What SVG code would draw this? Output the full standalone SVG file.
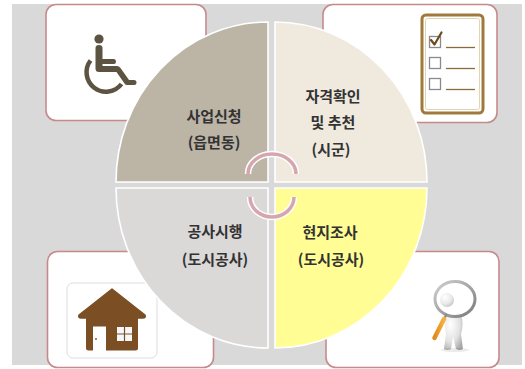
<svg xmlns="http://www.w3.org/2000/svg" width="525" height="369" viewBox="0 0 525 369">
  <defs>
    <style>
      .card { fill: #ffffff; stroke: #c68a8d; stroke-width: 1.6; }
      .quad { stroke: #ffffff; stroke-width: 1.6; }
      .label { font-family: "Noto Sans CJK KR", "Noto Sans", sans-serif; font-size: 15px; font-weight: bold; fill: #333333; text-anchor: middle; dominant-baseline: central; }
      .icon { fill: #5c5440; }
      .ring-bg { fill: none; stroke: #ffffff; stroke-width: 6.5; }
      .ring { fill: none; stroke: #d5a6ae; stroke-width: 3.5; }
      .box { fill: #ffffff; stroke: #8a8a8a; stroke-width: 1.3; }
      .rule { stroke: #8a6a3a; stroke-width: 1.3; }
    </style>
    <radialGradient id="figShade" cx="0.35" cy="0.3" r="0.8">
      <stop offset="0" stop-color="#ffffff"/>
      <stop offset="0.6" stop-color="#e2e2e2"/>
      <stop offset="1" stop-color="#a8a8a8"/>
    </radialGradient>
    <linearGradient id="lensRim" x1="0" y1="0" x2="1" y2="1">
      <stop offset="0" stop-color="#d0d0d0"/>
      <stop offset="1" stop-color="#7a7a7a"/>
    </linearGradient>
    <linearGradient id="handle" x1="0" y1="0" x2="1" y2="0">
      <stop offset="0" stop-color="#e08a1e"/>
      <stop offset="1" stop-color="#f6b23c"/>
    </linearGradient>
  </defs>

  <!-- backdrop -->
  <rect x="12" y="4" width="510" height="361" fill="#d9d9d9"/>

  <!-- corner cards with icons -->
  <g id="card-wheelchair">
    <rect class="card" x="46" y="4.5" width="160" height="116" rx="10"/>
    <circle class="icon" cx="99" cy="39" r="4.6"/>
    <path class="icon" d="M95.5,48 Q95.5,45 99,45 Q102.5,45 102.5,48 L102.5,59 L114,59 Q116,59 116,61.5 Q116,64 114,64 L102.5,64 L102.5,66 L117,66 Q119,66 120.5,68 L129,80 L134,80 Q136.5,80 136.5,82.5 Q136.5,85 134,85 L127,85 Q125.5,85 124.5,83.5 L116.5,72 L99,72 Q95.5,72 95.5,68.5 Z"/>
    <path d="M90.5,60.5 A18,18 0 1 0 121.5,84" fill="none" stroke="#5c5440" stroke-width="4.5"/>
  </g>

  <g id="card-checklist">
    <rect class="card" x="323" y="4.5" width="174" height="118" rx="10"/>
    <rect x="422" y="15" width="61" height="98" rx="4" fill="#ffffff" stroke="#a07a3c" stroke-width="3"/>
    <rect x="425.5" y="18.5" width="54" height="91" rx="2" fill="none" stroke="#e3d3b0" stroke-width="1"/>
    <rect class="box" x="429.5" y="36.5" width="11" height="11"/>
    <rect class="box" x="429.5" y="57.5" width="11" height="11"/>
    <rect class="box" x="429.5" y="78.5" width="11" height="11"/>
    <path d="M431,40 L434.5,44.5 L441.5,32.5" fill="none" stroke="#6b4a1c" stroke-width="2.2" stroke-linecap="round" stroke-linejoin="round"/>
    <line class="rule" x1="446" y1="47.5" x2="475" y2="47.5"/>
    <line class="rule" x1="446" y1="68.5" x2="475" y2="68.5"/>
    <line class="rule" x1="446" y1="89.5" x2="475" y2="89.5"/>
  </g>

  <g id="card-house">
    <rect class="card" x="47.5" y="251.5" width="166" height="116" rx="10"/>
    <rect x="67" y="283" width="90" height="75" rx="6" fill="#ffffff" stroke="#dddddd" stroke-width="1"/>
    <path d="M112,289 L145,315 Q146,318 143,318 L81,318 Q78,318 79,315 Z" fill="#7b4f23" stroke="#7b4f23" stroke-width="1.5" stroke-linejoin="round"/>
    <path d="M86,314 L138,314 L138,348 Q138,350.5 135.5,350.5 L88.5,350.5 Q86,350.5 86,348 Z" fill="#7b4f23"/>
    <rect x="93" y="326.5" width="13" height="25" fill="#ffffff"/>
    <circle cx="96" cy="339" r="0.9" fill="#7b4f23"/>
    <rect x="117" y="327" width="15" height="14" fill="#f4f8fb"/>
    <path d="M124.5,327 V341 M117,334 H132" stroke="#7b4f23" stroke-width="1.2"/>
  </g>

  <g id="card-search">
    <rect class="card" x="326" y="251.5" width="173" height="116" rx="10"/>
    <!-- figure body and legs -->
    <path d="M446,316 Q444,326 446,334 L444,349 Q448,351 451,349 L453,336 L456,349 Q460,351 463,349 L461,334 Q464,324 461,314 Z" fill="url(#figShade)"/>
    <circle cx="447" cy="300" r="7" fill="url(#figShade)"/>
    <!-- lens -->
    <ellipse cx="455" cy="299" rx="20" ry="17.5" fill="#ffffff" fill-opacity="0.25" stroke="url(#lensRim)" stroke-width="3"/>
    <path d="M446.5,314 L436,336" stroke="#8a8a8a" stroke-width="2"/>
    <path d="M444,319 L434.5,338" stroke="url(#handle)" stroke-width="4.5" stroke-linecap="round"/>
    <ellipse cx="455" cy="350" rx="14" ry="2" fill="#000000" fill-opacity="0.08"/>
  </g>

  <!-- four-step cycle -->
  <g id="step-apply">
    <path class="quad" d="M268,182 L268,22 A152,160 0 0 0 116,182 Z" fill="#bcb4a5"/>
    <text class="label" x="214" y="115">사업신청</text>
    <text class="label" x="214" y="141">(읍면동)</text>
  </g>
  <g id="step-verify">
    <path class="quad" d="M275,182 L275,22 A152,160 0 0 1 427,182 Z" fill="#efe9de"/>
    <text class="label" x="333" y="95">자격확인</text>
    <text class="label" x="333" y="121.5">및 추천</text>
    <text class="label" x="331" y="148">(시군)</text>
  </g>
  <g id="step-build">
    <path class="quad" d="M268,188 L116,188 A152,160 0 0 0 268,348 Z" fill="#dbd8d8"/>
    <text class="label" x="215" y="230">공사시행</text>
    <text class="label" x="215" y="258">(도시공사)</text>
  </g>
  <g id="step-survey">
    <path class="quad" d="M275,188 L427,188 A152,160 0 0 1 275,348 Z" fill="#fffd93"/>
    <text class="label" x="330" y="231">현지조사</text>
    <text class="label" x="331" y="258">(도시공사)</text>
  </g>

  <!-- circular flow arcs at the hub -->
  <g id="connectors">
    <path class="ring-bg" d="M248,174 A24,20 0 0 1 296,174"/>
    <path class="ring" d="M248,174 A24,20 0 0 1 296,174"/>
    <path class="ring-bg" d="M250,197 A22,20 0 0 0 294,197"/>
    <path class="ring" d="M250,197 A22,20 0 0 0 294,197"/>
  </g>
</svg>
